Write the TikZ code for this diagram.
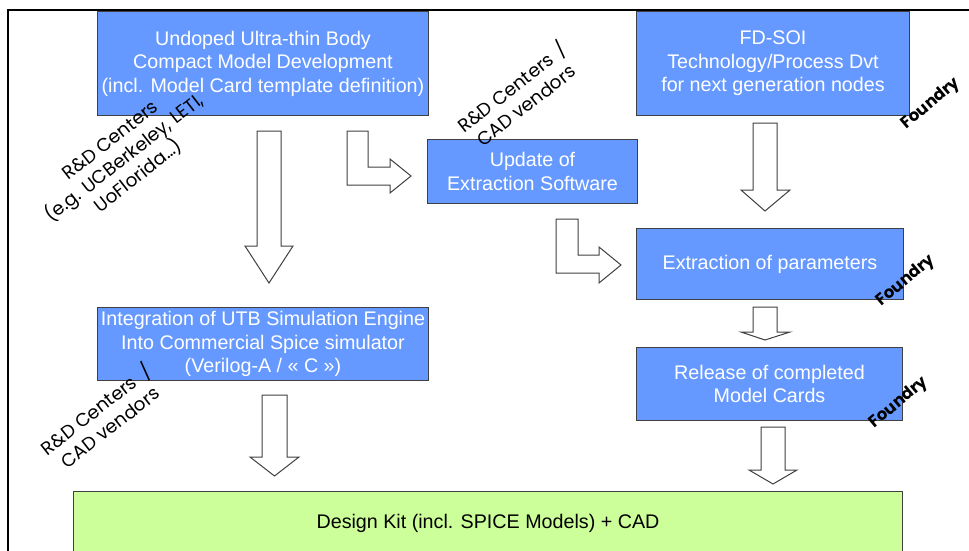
\documentclass[tikz,border=0pt]{standalone}
\usepackage{fontspec}
\setmainfont{Liberation Sans}
\newfontfamily\handfont{Poppins}
\definecolor{stageblue}{HTML}{6699FF}
\definecolor{kitgreen}{HTML}{CCFF99}
\definecolor{edgegray}{HTML}{404040}
\begin{document}
\begin{tikzpicture}[x=1pt,y=-1pt,
  box/.style={draw=edgegray, line width=1pt, anchor=north west, align=center,
    inner sep=0pt, font=\fontsize{19.7}{23.5}\selectfont},
  stage/.style={box, fill=stageblue, text=white},
  kit/.style={box, fill=kitgreen, text=black},
  blockarrow/.style={draw=edgegray, fill=white, line width=1pt, line join=miter},
  who/.style={font=\handfont\fontsize{18.5}{22.5}\selectfont, align=center, rotate=38},
  fab/.style={font=\handfont\bfseries\fontsize{16.5}{18}\selectfont, rotate=40}]
\useasboundingbox (0,0) rectangle (969,551);

% frame
\draw[line width=2pt] (8,560) -- (8,10) -- (975,10);

% stages
\node[stage, minimum width=331pt, minimum height=104pt] (model) at (97,11)
  {Undoped Ultra-thin Body\\Compact Model Development\\(incl. Model Card template definition)};
\node[stage, minimum width=273pt, minimum height=104pt] (tech) at (636,11)
  {FD-SOI\\Technology/Process Dvt\\for next generation nodes};
\node[stage, minimum width=210pt, minimum height=64pt] (soft) at (427,139)
  {Update of\\Extraction Software};
\node[stage, minimum width=267pt, minimum height=71pt] (extr) at (636,228)
  {Extraction of parameters};
\node[stage, minimum width=266pt, minimum height=73pt] (rel) at (636,347)
  {Release of completed\\Model Cards};
\node[stage, minimum width=331pt, minimum height=73pt] (integ) at (97,307)
  {Integration of UTB Simulation Engine\\Into Commercial Spice simulator\\(Verilog-A / « C »)};
\node[kit, minimum width=829pt, minimum height=64pt] (dk) at (73,491)
  {Design Kit (incl. SPICE Models) + CAD};

% straight block arrows
\draw[blockarrow] (257,131) -- (281,131) -- (281,246) -- (293,246) -- (269,283)
  -- (245,246) -- (257,246) -- cycle;
\draw[blockarrow] (262,395) -- (287,395) -- (287,457) -- (299,457) -- (274.5,476)
  -- (250,457) -- (262,457) -- cycle;
\draw[blockarrow] (753,123) -- (777,123) -- (777,190) -- (790,190) -- (765,211)
  -- (741,190) -- (753,190) -- cycle;
\draw[blockarrow] (753,307) -- (777,307) -- (777,332) -- (790,332) -- (765,340)
  -- (741,332) -- (753,332) -- cycle;
\draw[blockarrow] (761,427) -- (785,427) -- (785,470) -- (797,470) -- (773,484)
  -- (749,470) -- (761,470) -- cycle;

% bent block arrows
\draw[blockarrow] (347,131) -- (368,131) -- (368,167) -- (390,167) -- (390,159)
  -- (411,176) -- (390,193) -- (390,185) -- (347,185) -- cycle;
\draw[blockarrow] (556,219) -- (578,219) -- (578,255) -- (599,255) -- (599,247)
  -- (621,265) -- (599,283) -- (599,273) -- (556,273) -- cycle;

% actors
\node[who] (whoA) at (125,159) {R\&D Centers\\(e.g. UCBerkeley, LETI,\\UoFlorida…)};
\node[who] (whoB) at (518,95) {R\&D Centers \,/\\CAD vendors};
\node[who] (whoC) at (102,417) {R\&D Centers \;/\\CAD vendors};
\node[fab] (fab1) at (931,104) {Foundry};
\node[fab] (fab2) at (906,281) {Foundry};
\node[fab] (fab3) at (899,403) {Foundry};
\end{tikzpicture}
\end{document}
